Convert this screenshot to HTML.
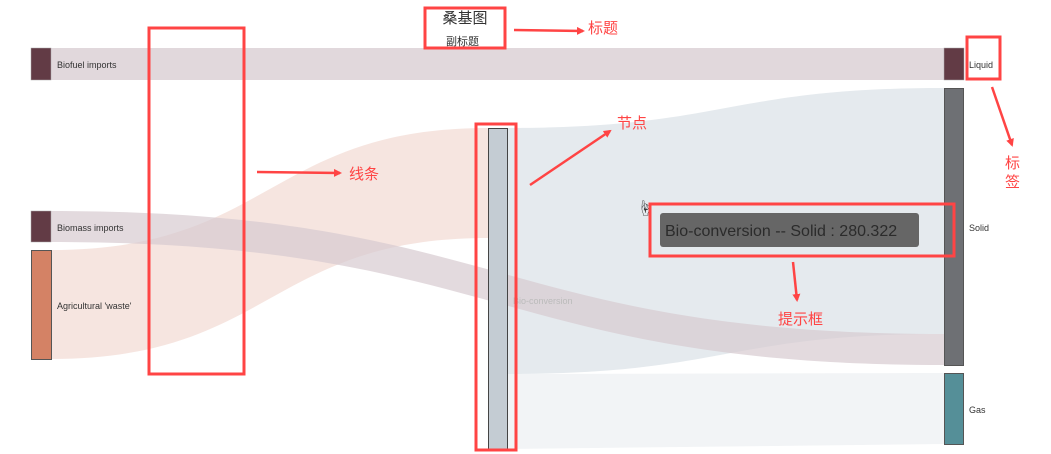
<!DOCTYPE html>
<html><head><meta charset="utf-8"><style>
html,body{margin:0;padding:0;background:#fff;}
svg{display:block;}
text{font-family:"Liberation Sans","Noto Sans CJK SC",sans-serif;}
</style></head><body>
<svg width="1051" height="454" viewBox="0 0 1051 454" xmlns="http://www.w3.org/2000/svg">
<defs>
<marker id="ah" markerWidth="8" markerHeight="8" refX="6" refY="4" orient="auto" markerUnits="userSpaceOnUse"><path d="M0,0 L8,4 L0,8 z" fill="#f44"/></marker>
</defs>
<!-- links -->
<path d="M51,48 L944,48 L944,80 L51,80 Z" fill="#e1d8dc"/>
<path d="M508,128 C726,128 726,88 944,88 L944,334 C726,334 726,374 508,374 Z" fill="#e5eaee"/>
<path d="M508,374 L944,373 L944,444 L508,449 Z" fill="#f2f4f6"/>
<path d="M51,250 C270,250 270,128 488,128 L488,238 C270,238 270,359 51,359 Z" fill="#f3dcd6" fill-opacity="0.75"/>
<path d="M51,211 C500,211 500,334 944,334 L944,365 C500,365 500,242 51,242 Z" fill="#d7cbd0" fill-opacity="0.7"/>
<!-- nodes -->
<rect x="31" y="48" width="20" height="32" fill="#623b45" stroke="#aaa" stroke-width="0.5"/>
<rect x="31" y="211" width="20" height="31" fill="#623b45" stroke="#aaa" stroke-width="0.5"/>
<rect x="31.5" y="250.5" width="20" height="109" fill="#d48265" stroke="#555" stroke-width="1"/>
<rect x="488.5" y="128.5" width="19" height="321" fill="#c4ccd3" stroke="#444" stroke-width="1"/>
<rect x="944" y="48" width="20" height="32" fill="#623b45" stroke="#aaa" stroke-width="0.5"/>
<rect x="944.5" y="88.5" width="19" height="277" fill="#6e7074" stroke="#555" stroke-width="1"/>
<rect x="944.5" y="373.5" width="19" height="71" fill="#558f98" stroke="#555" stroke-width="1"/>
<!-- labels -->
<g font-size="9" fill="#333">
<text x="57" y="68">Biofuel imports</text>
<text x="57" y="231">Biomass imports</text>
<text x="57" y="309">Agricultural 'waste'</text>
<text x="969" y="68">Liquid</text>
<text x="969" y="231">Solid</text>
<text x="969" y="413">Gas</text>
</g>
<text x="513" y="304" font-size="9" fill="#bbb">Bio-conversion</text>
<!-- title -->
<text x="465" y="23" font-size="15" fill="#333" text-anchor="middle">桑基图</text>
<text x="446" y="45" font-size="11" fill="#333">副标题</text>
<!-- tooltip -->
<rect x="660" y="213" width="259" height="34" rx="3" fill="#666"/>
<text x="665" y="236" font-size="16" fill="#2b2b2b">Bio-conversion -- Solid : 280.322</text>
<!-- cursor -->
<text x="637" y="214" font-size="16" fill="#333">☝</text>
<!-- annotation boxes -->
<g fill="none" stroke="#f44" stroke-width="3">
<rect x="149" y="28" width="95" height="346"/>
<rect x="425" y="8" width="80" height="40"/>
<rect x="476" y="124" width="40" height="326"/>
<rect x="650" y="204" width="304" height="52"/>
<rect x="967" y="37" width="33" height="42"/>
</g>
<g stroke="#f44" stroke-width="2.5" marker-end="url(#ah)">
<line x1="514" y1="30" x2="583" y2="31"/>
<line x1="257" y1="172" x2="340" y2="173"/>
<line x1="530" y1="185" x2="610" y2="131"/>
<line x1="793" y1="262" x2="797" y2="300"/>
<line x1="992" y1="87" x2="1012" y2="145"/>
</g>
<g font-size="15" fill="#f44">
<text x="588" y="33">标题</text>
<text x="349" y="179">线条</text>
<text x="617" y="128">节点</text>
<text x="778" y="324">提示框</text>
<text x="1005" y="168">标</text>
<text x="1005" y="187">签</text>
</g>
</svg>
</body></html>
